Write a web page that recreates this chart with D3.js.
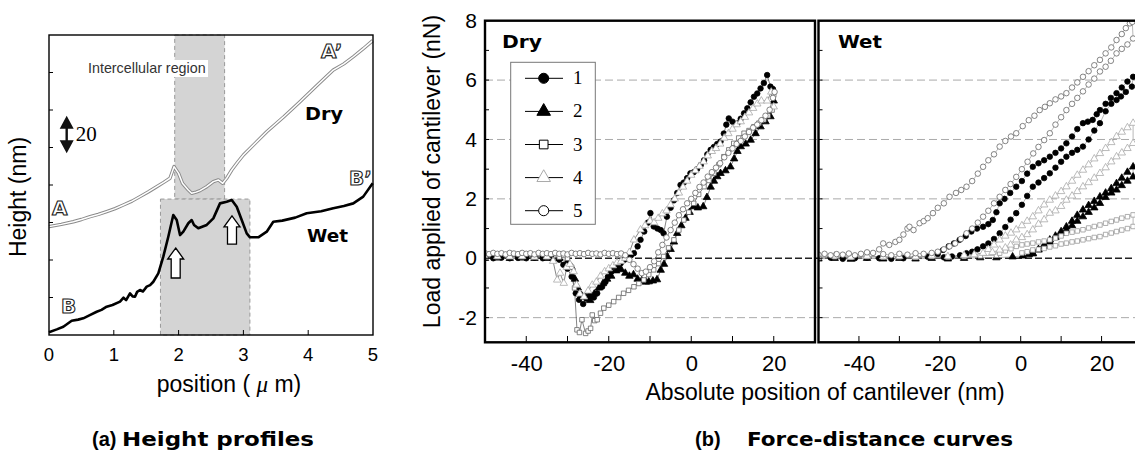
<!DOCTYPE html>
<html>
<head>
<meta charset="utf-8">
<script src="https://cdn.jsdelivr.net/npm/d3@7"></script>
<style>
 body { margin: 0; background: #fff; }
 svg { display: block; }
</style>
</head>
<body>
<svg width="1135" height="464" font-family="'Liberation Sans', Arial, sans-serif"></svg>
<script>
// ---------- (a) height profiles : [position (um), height (nm)]
var dryProfile = [[0,57.8],[0.19,59.0],[0.375,60.4],[0.5,61.6],[0.633,63.1],[0.76,64.3],[0.89,65.8],[1.02,67.4],[1.147,69.3],[1.28,71.4],[1.404,73.8],[1.53,76.3],[1.662,79.1],[1.77,81.4],[1.867,83.6],[1.93,89.8],[2.0,86.2],[2.06,80.9],[2.15,77.3],[2.202,75.6],[2.27,76.2],[2.33,77.0],[2.434,79.1],[2.536,81.8],[2.613,82.7],[2.681,80.9],[2.742,83.6],[2.82,88.0],[2.91,92.1],[3.0,96.0],[3.18,102.2],[3.36,108.4],[3.62,116.3],[3.873,124.4],[4.13,132.9],[4.387,141.3],[4.55,144.6],[4.696,148.4],[4.85,152.7],[4.995,157.0]];
var wetProfile = [[0,1.5],[0.12,3.0],[0.221,4.4],[0.35,7.6],[0.45,8.2],[0.529,8.9],[0.63,10.6],[0.736,12.4],[0.81,13.4],[0.89,15.1],[0.98,16.0],[1.096,17.8],[1.15,19.9],[1.19,18.6],[1.25,22.2],[1.29,20.6],[1.327,20.4],[1.36,23.0],[1.404,24.0],[1.45,23.2],[1.508,25.8],[1.56,26.6],[1.61,28.4],[1.687,32.9],[1.764,41.8],[1.841,52.4],[1.918,64.0],[1.971,61.3],[2.022,53.3],[2.073,55.1],[2.15,59.6],[2.202,61.3],[2.238,58.7],[2.304,56.9],[2.434,58.7],[2.536,62.2],[2.639,70.2],[2.742,71.1],[2.82,72.0],[2.897,68.4],[2.974,61.3],[3.051,54.2],[3.102,52.1],[3.23,52.1],[3.36,55.1],[3.461,60.4],[3.6,61.0],[3.8,62.6],[3.977,64.9],[4.2,66.0],[4.387,67.6],[4.55,68.8],[4.696,70.2],[4.85,73.8],[4.995,80.9]];
var regionUpper = [1.94, 2.71];   // intercellular region (dry)
var regionLower = [1.72, 3.10];   // intercellular region (wet)
var regionSplit = 72.5;           // height where the two boxes meet
var arrowsAt = [[1.955, 30.4, 46.4], [2.824, 48.5, 63.5]];
var profileTicksX = [0, 1, 2, 3, 4, 5];
var profileTicksY = [20, 40, 60, 80, 100, 120, 140];

// ---------- (b) force-distance curves : [position (nm), load (nN)]
var dry1 = [[-50,0.02],[-48,0],[-46,0.02],[-44,0],[-42,0.01],[-40,0],[-38,0.02],[-36,0],[-34,0.01],[-32,-0.05],[-31,-0.22],[-30,-0.35],[-29,-0.62],[-28,-1.18],[-27.2,-1.4],[-26.2,-1.54],[-25.4,-1.36],[-24.6,-1.25],[-23.6,-1.32],[-22.8,-1.18],[-21.6,-0.96],[-20.8,-0.8],[-20.2,-0.62],[-19.4,-0.45],[-18.8,-0.28],[-17.8,-0.3],[-17.1,-0.17],[-16.2,-0.05],[-15.5,0.06],[-14.6,0.1],[-13.9,0.17],[-13,0.4],[-12.3,0.62],[-11.4,0.9],[-10.5,1.2],[-9.9,1.52],[-9.1,1.07],[-8.2,1.0],[-7.4,0.95],[-6.7,0.84],[-5.9,1.4],[-5,1.7],[-4.2,1.95],[-3.4,2.2],[-2.6,2.47],[-1.8,2.55],[-1,2.7],[-0.2,2.86],[0.6,2.9],[1.4,3.0],[2.3,3.14],[3.1,3.3],[3.9,3.5],[4.7,3.65],[5.5,3.75],[6.3,3.85],[7.1,3.93],[7.9,4.2],[8.5,4.5],[9.1,4.71],[10,4.6],[11.2,4.55],[12,4.7],[12.8,4.88],[13.6,5.05],[14.4,5.25],[15.2,5.44],[16,5.55],[16.8,5.72],[17.6,5.9],[18.4,6.17],[19.2,5.78],[19.8,5.7]];
var dry2 = [[-50,0],[-47,0.01],[-44,0],[-41,0.01],[-38,0],[-35,0],[-32,0],[-30,-0.1],[-29,-0.3],[-28.2,-0.7],[-27.5,-1.0],[-26.6,-1.25],[-25.6,-1.3],[-24.5,-1.42],[-23.5,-1.2],[-22.4,-1.0],[-21.4,-0.85],[-20.4,-0.7],[-19.4,-0.6],[-18.2,-0.42],[-17,-0.38],[-16,-0.5],[-15,-0.6],[-14,-0.55],[-13,-0.7],[-12,-0.75],[-11,-0.8],[-10.3,-0.79],[-9.3,-0.76],[-8.3,-0.72],[-7.4,-0.4],[-6.6,-0.2],[-5.8,0.06],[-5,0.3],[-4.2,0.55],[-3.4,0.84],[-2.4,1.1],[-1.4,1.35],[-0.4,1.55],[0.6,1.74],[1.6,1.7],[2.9,1.74],[3.8,2.05],[4.7,2.4],[5.5,2.6],[6.3,2.75],[7.1,2.86],[8.3,2.95],[9.5,3.08],[10.4,3.35],[11.2,3.6],[12,3.76],[13.2,3.85],[14.4,3.98],[15.6,4.2],[16.8,4.43],[18,4.6],[19.2,4.77],[20,5.3]];
var dry3 = [[-50,0.06],[-47,0.05],[-44,0.07],[-41,0.05],[-38,0.06],[-35,0.05],[-32,0.04],[-30,0],[-29,-0.3],[-28.3,-1.0],[-27.7,-2.41],[-27.1,-2.5],[-26.5,-2.07],[-25.6,-2.53],[-25,-2.45],[-24.4,-2.36],[-24,-1.91],[-23.4,-2.1],[-22.8,-2.07],[-22,-1.85],[-21.2,-1.68],[-20,-1.58],[-18.8,-1.46],[-17.6,-1.32],[-16.4,-1.18],[-15.2,-1.08],[-13.9,-0.96],[-12.7,-0.85],[-11.5,-0.73],[-10.3,-0.55],[-9.1,-0.39],[-7.9,-0.18],[-6.7,0.06],[-5.5,0.35],[-4.2,0.62],[-3,0.95],[-1.8,1.29],[-0.6,1.55],[0.6,1.85],[1.8,2.15],[3.1,2.41],[4.3,2.62],[5.5,2.86],[6.7,3.15],[7.9,3.42],[9.1,3.65],[10.3,3.87],[11.5,4.05],[12.8,4.21],[14,4.3],[15.2,4.43],[16.4,4.55],[17.6,4.66],[18.6,4.8],[19.6,4.99],[20,5.5]];
var dry4 = [[-50,0.04],[-47,0.06],[-44,0.05],[-41,0.06],[-38,0.04],[-35,0.05],[-33.5,-0.1],[-32.5,-0.73],[-31.8,-0.5],[-30.9,-0.84],[-30.2,-0.3],[-29.4,-0.2],[-28.5,-0.45],[-27.8,-0.9],[-27,-1.2],[-26,-1.3],[-25,-1.1],[-24,-0.9],[-23,-0.8],[-22,-0.6],[-21,-0.45],[-20,-0.35],[-19,-0.25],[-18,-0.15],[-17,-0.1],[-16,0],[-15,0.2],[-13.9,0.62],[-12.3,0.96],[-11.2,1.1],[-10,1.25],[-9,1.2],[-8,1.35],[-7,1.5],[-6,1.6],[-5,1.8],[-4,2.0],[-3,2.2],[-2,2.4],[-1,2.6],[0,2.8],[1,2.95],[2,3.1],[3,3.25],[4,3.45],[5,3.6],[6,3.7],[7,3.85],[8,4.05],[9,4.2],[10,4.35],[11,4.5],[12,4.6],[13,4.75],[14,4.9],[15,5.05],[16,5.2],[17,5.3],[18.4,5.3],[19.4,5.6],[20,5.1]];
var dry5 = [[-50,0.17],[-49,0.14],[-48,0.18],[-47,0.15],[-46,0.17],[-45,0.13],[-44,0.18],[-43,0.16],[-42,0.14],[-41,0.18],[-40,0.15],[-39,0.17],[-38,0.13],[-37,0.18],[-36,0.15],[-35,0.17],[-34,0.14],[-33,0.18],[-32,0.15],[-31,0.16],[-30,0.13],[-29,0.18],[-28,0.15],[-27,0.17],[-26,0.14],[-25,0.18],[-24,0.15],[-23,0.16],[-22,0.13],[-21,0.18],[-20,0.15],[-19,0.17],[-18,0.14],[-17,0.16],[-16,0.1],[-15,-0.05],[-14,-0.2],[-13,-0.35],[-12,-0.5],[-11,-0.45],[-10,-0.3],[-9,-0.1],[-8,0.2],[-7,0.45],[-6,0.7],[-5,0.95],[-4,1.2],[-3,1.45],[-2,1.65],[-1,1.85],[0,2.0],[1,2.2],[2,2.4],[3,2.55],[4,2.75],[5,2.9],[6,3.05],[7,3.2],[8,3.4],[9,3.55],[10,3.7],[11,3.85],[12,3.95],[13,4.1],[14,4.25],[15,4.4],[16,4.5],[17,4.65],[18,4.8],[19,5.0],[19.8,5.4],[20.2,5.6]];

var wet1 = [[-50,0],[-47,0.02],[-44,-0.02],[-41,0],[-38,0.02],[-35,0],[-32,-0.02],[-29,0],[-26,0.03],[-23,0.05],[-20.5,0.15],[-19.2,0.28],[-17.8,0.4],[-16.5,0.5],[-15.1,0.62],[-13.6,0.75],[-12.2,0.9],[-10.8,1.0],[-9.3,1.06],[-8,1.15],[-6.9,1.29],[-6,1.55],[-5.2,1.85],[-4,2.0],[-2.6,2.2],[-1.1,2.41],[0.3,2.6],[1.6,2.85],[3.0,3.08],[4.4,3.2],[5.8,3.3],[7.2,3.42],[8.6,3.55],[10,3.7],[11.3,3.87],[12.7,4.1],[14,4.35],[15.4,4.55],[16.6,4.6],[17.8,4.66],[18.8,4.85],[19.6,4.99],[21,5.2],[22.3,5.4],[23.7,5.56],[25,5.75],[26.4,5.95],[27.8,6.11],[27.5,5.78],[26,5.6],[24.8,5.45],[23.7,5.33],[22.4,5.2],[21,4.95],[19.6,4.55],[18.2,4.3],[16.8,4.0],[15.4,3.76],[14,3.65],[12.7,3.55],[11.3,3.42],[10,3.25],[8.6,3.05],[7.2,2.86],[5.8,2.7],[4.4,2.55],[3.0,2.41],[1.6,2.1],[0.3,1.8],[-1.1,1.52],[-2.5,1.3],[-3.8,1.05],[-5.2,0.84],[-6.6,0.65],[-8,0.5],[-9.3,0.4],[-10.7,0.3],[-12,0.22],[-13.4,0.17],[-15,0.1],[-17,0.06],[-19,0.03]];
var wet2 = [[-50,-0.02],[-46,0],[-42,-0.03],[-38,0],[-34,-0.02],[-30,0],[-26,-0.02],[-22,0],[-18,-0.02],[-14,0],[-10,0.02],[-6,0.02],[-2,0.05],[0.5,0.08],[2,0.12],[3,0.17],[4.4,0.3],[5.8,0.45],[7.2,0.62],[8.6,0.75],[10,0.9],[11.3,1.06],[12.7,1.25],[14,1.45],[15.4,1.63],[16.8,1.78],[18.2,1.92],[19.6,2.07],[21,2.2],[22.4,2.35],[23.7,2.52],[25,2.7],[26.4,2.9],[27.8,3.08],[27.8,2.74],[26.4,2.6],[25,2.45],[23.7,2.3],[22.4,2.2],[21,2.05],[19.6,1.85],[18.2,1.7],[16.8,1.55],[15.4,1.4],[14,1.25],[12.7,1.1],[11.3,0.95],[10,0.84],[8.6,0.7],[7.2,0.55],[5.8,0.4],[4.4,0.28],[3,0.15]];
var wet3 = [[-50,0.02],[-46,0.05],[-42,0.03],[-38,0.06],[-34,0.04],[-30,0.05],[-26,0.03],[-22,0.06],[-18,0.04],[-14,0.06],[-10,0.08],[-6,0.1],[-5.2,0.17],[-3.8,0.25],[-2.4,0.32],[-1.1,0.4],[0.3,0.45],[1.6,0.48],[3,0.51],[4.4,0.55],[5.8,0.58],[7.2,0.62],[8.6,0.68],[10,0.75],[11.3,0.84],[12.7,0.88],[14,0.92],[15.4,0.96],[16.8,1.02],[18.2,1.07],[19.6,1.12],[21,1.18],[22.4,1.24],[23.7,1.29],[25,1.35],[26.4,1.4],[27.8,1.46],[27.8,1.07],[26.4,1.0],[25,0.95],[23.7,0.9],[22.4,0.85],[21,0.8],[19.6,0.73],[18.2,0.7],[16.8,0.66],[15.4,0.62],[14,0.58],[12.7,0.55],[11.3,0.51],[10,0.48],[8.6,0.42],[7.2,0.38],[5.8,0.33],[4.4,0.3],[3,0.28],[1.6,0.22],[0.3,0.18]];
var wet4 = [[-50,0.05],[-46,0.08],[-42,0.04],[-38,0.07],[-34,0.05],[-30,0.06],[-26,0.05],[-22,0.08],[-18,0.06],[-14,0.1],[-11.5,0.12],[-9.3,0.17],[-8,0.3],[-6.6,0.45],[-5.2,0.62],[-3.8,0.75],[-2.4,0.85],[-1.1,0.96],[0.3,1.1],[1.6,1.25],[3.0,1.4],[4.4,1.6],[5.8,1.8],[7.2,1.96],[8.6,2.1],[10,2.25],[11.3,2.41],[12.7,2.6],[14,2.8],[15.4,2.97],[16.8,3.15],[18.2,3.35],[19.6,3.53],[21,3.7],[22.4,3.9],[23.7,4.1],[25,4.25],[26.4,4.4],[27.8,4.55],[27.8,3.87],[26.4,3.7],[25,3.55],[23.7,3.42],[22.4,3.25],[21,3.05],[19.6,2.86],[18.2,2.7],[16.8,2.55],[15.4,2.41],[14,2.25],[12.7,2.1],[11.3,1.96],[10,1.75],[8.6,1.6],[7.2,1.52],[5.8,1.3],[4.4,1.15],[3,0.96],[1.6,0.8],[0.3,0.7],[-1.1,0.62],[-2.5,0.45],[-3.8,0.35],[-5.2,0.28],[-7,0.2]];
var wet5 = [[-50,0.12],[-48.5,0.15],[-47,0.1],[-45.5,0.14],[-44,0.12],[-42.5,0.16],[-41,0.1],[-39.5,0.15],[-38,0.2],[-36.5,0.18],[-35,0.3],[-34,0.5],[-32.5,0.45],[-31,0.55],[-30,0.62],[-29,0.8],[-28,1.0],[-27.5,1.06],[-26.5,0.95],[-25,1.18],[-24,1.25],[-23,1.35],[-21.7,1.52],[-20.5,1.7],[-19,1.85],[-17.6,2.07],[-16,2.2],[-14.7,2.3],[-13.4,2.41],[-12,2.6],[-10.6,2.85],[-9.3,3.08],[-8,3.3],[-6.6,3.5],[-5.2,3.76],[-3.8,3.95],[-2.4,4.1],[-1.1,4.21],[0.5,4.45],[2,4.65],[3.4,4.8],[4.7,4.99],[6,5.1],[7.2,5.22],[8.6,5.35],[10,5.45],[11.3,5.56],[12.7,5.75],[14,5.92],[15.4,6.11],[16.8,6.3],[18.2,6.5],[19.6,6.68],[21,6.9],[22.4,7.1],[23.7,7.35],[25,7.55],[26,7.75],[27,7.91],[27.6,7.96],[27.8,7.4],[26.4,7.2],[25,7.05],[23.7,6.9],[22.3,6.65],[21,6.45],[19.6,6.29],[18.2,6.05],[16.8,5.85],[15.4,5.62],[14,5.4],[12.7,5.2],[11.3,4.99],[10,4.75],[8.6,4.5],[7.2,4.21],[5.8,3.98],[4.4,3.75],[3.1,3.53],[1.7,3.25],[0.3,3.0],[-1.1,2.74],[-2.5,2.5],[-3.8,2.3],[-5.2,2.07],[-6.6,1.85],[-8,1.6],[-9.3,1.4],[-10.6,1.2],[-12,1.0],[-13.4,0.84],[-14.8,0.65],[-16.2,0.5],[-17.6,0.4],[-19,0.3],[-20.5,0.22],[-22,0.18],[-24,0.15],[-26,0.17],[-28,0.12],[-30,0.15],[-32,0.1],[-34,0.14]];

var seriesNames = ["1", "2", "3", "4", "5"];
var forceTicks = [-40, -30, -20, -10, 0, 10, 20];
var forceLabels = [-40, -20, 0, 20];
var loadTicks = [-2, 0, 2, 4, 6, 8];
var gridLoads = [-2, 2, 4, 6];

var svg = d3.select("svg");
var SANS = "'Liberation Sans', Arial, sans-serif";
var HEAVY = "'DejaVu Sans', 'Liberation Sans', sans-serif";
var SERIF = "'Liberation Serif', 'Times New Roman', serif";
var plain = function (d) { return String(d); };   // ASCII hyphen, like the original

// ===================== (a) =====================
var xA = d3.scaleLinear().domain([0, 5]).range([49, 373]);
var yA = d3.scaleLinear().domain([0, 160]).range([335, 35]);

var ga = svg.append("g");

// shaded intercellular region
ga.append("rect")
  .attr("x", xA(regionUpper[0])).attr("y", yA(160))
  .attr("width", xA(regionUpper[1]) - xA(regionUpper[0]))
  .attr("height", yA(regionSplit) - yA(160))
  .attr("fill", "#d4d4d4").attr("stroke", "#999").attr("stroke-dasharray", "4,3");
ga.append("rect")
  .attr("x", xA(regionLower[0])).attr("y", yA(regionSplit))
  .attr("width", xA(regionLower[1]) - xA(regionLower[0]))
  .attr("height", yA(0) - yA(regionSplit))
  .attr("fill", "#d4d4d4").attr("stroke", "#999").attr("stroke-dasharray", "4,3");

// label box
ga.append("rect").attr("x", 85).attr("y", 60).attr("width", 123).attr("height", 17).attr("fill", "#fff");
ga.append("text").attr("x", 88).attr("y", 73).attr("font-size", 14.3).attr("fill", "#333")
  .text("Intercellular region");

var lineA = d3.line().x(function (d) { return xA(d[0]); }).y(function (d) { return yA(d[1]); });

// dry: hollow double line
ga.append("path").datum(dryProfile).attr("d", lineA)
  .attr("fill", "none").attr("stroke", "#8a8a8a").attr("stroke-width", 3.4).attr("stroke-linejoin", "round");
ga.append("path").datum(dryProfile).attr("d", lineA)
  .attr("fill", "none").attr("stroke", "#fff").attr("stroke-width", 1.5).attr("stroke-linejoin", "round");
// wet: thick black
ga.append("path").datum(wetProfile).attr("d", lineA)
  .attr("fill", "none").attr("stroke", "#000").attr("stroke-width", 2.6).attr("stroke-linejoin", "round");

// up arrows
arrowsAt.forEach(function (a) {
  var cx = xA(a[0]), yb = yA(a[1]), yt = yA(a[2]);
  var hh = 11, hw = 8, sw = 4.5;
  var pts = [[cx, yt], [cx + hw, yt + hh], [cx + sw, yt + hh], [cx + sw, yb], [cx - sw, yb], [cx - sw, yt + hh], [cx - hw, yt + hh]];
  ga.append("polygon").attr("points", pts.join(" "))
    .attr("fill", "#fff").attr("stroke", "#000").attr("stroke-width", 1.3);
});

// scale bar: 20 nm double arrow
(function () {
  var cx = xA(0.273), y1 = yA(117), y2 = yA(97);
  ga.append("path")
    .attr("d", "M" + cx + "," + y1 + " L" + (cx + 7) + "," + (y1 + 13) + " L" + (cx + 1.2) + "," + (y1 + 13) +
      " L" + (cx + 1.2) + "," + (y2 - 13) + " L" + (cx + 7) + "," + (y2 - 13) + " L" + cx + "," + y2 +
      " L" + (cx - 7) + "," + (y2 - 13) + " L" + (cx - 1.2) + "," + (y2 - 13) + " L" + (cx - 1.2) + "," + (y1 + 13) +
      " L" + (cx - 7) + "," + (y1 + 13) + "Z")
    .attr("fill", "#111");
  ga.append("text").attr("x", cx + 9).attr("y", (y1 + y2) / 2 + 7)
    .attr("font-family", SERIF).attr("font-size", 21).text("20");
})();

// frame + ticks
ga.append("rect").attr("x", 49).attr("y", 35).attr("width", 324).attr("height", 300)
  .attr("fill", "none").attr("stroke", "#000").attr("stroke-width", 1.4);
ga.append("g").selectAll("line").data(profileTicksX.slice(1, 5)).enter().append("line")
  .attr("x1", xA).attr("x2", xA).attr("y1", 335).attr("y2", 330).attr("stroke", "#000");
ga.append("g").selectAll("line").data(profileTicksY).enter().append("line")
  .attr("x1", 49).attr("x2", 53).attr("y1", yA).attr("y2", yA).attr("stroke", "#000");

ga.append("g").selectAll("text").data(profileTicksX).enter().append("text")
  .attr("x", xA).attr("y", 361).attr("text-anchor", "middle").attr("font-size", 18.5)
  .text(plain);

// outline letters
var outline = [["A\u2019", 321, 58], ["B\u2019", 349, 185], ["A", 52, 215], ["B", 61, 313]];
ga.append("g").selectAll("text").data(outline).enter().append("text")
  .attr("x", function (d) { return d[1]; }).attr("y", function (d) { return d[2]; })
  .attr("font-family", HEAVY).attr("font-size", 20).attr("font-weight", "bold").attr("fill", "#fff")
  .attr("stroke", "#222").attr("stroke-width", 1.1)
  .text(function (d) { return d[0]; });
ga.append("text").attr("x", 305).attr("y", 120).attr("font-family", HEAVY).attr("font-size", 18).attr("font-weight", "bold")
  .attr("textLength", 38).attr("lengthAdjust", "spacingAndGlyphs").text("Dry");
ga.append("text").attr("x", 307).attr("y", 242).attr("font-family", HEAVY).attr("font-size", 18).attr("font-weight", "bold")
  .attr("textLength", 41).attr("lengthAdjust", "spacingAndGlyphs").text("Wet");

ga.append("text").attr("transform", "translate(26,197) rotate(-90)").attr("text-anchor", "middle")
  .attr("font-size", 23).text("Height (nm)");
var xlab = ga.append("text").attr("x", 229).attr("y", 392).attr("text-anchor", "middle").attr("font-size", 23);
xlab.append("tspan").text("position ( ");
xlab.append("tspan").attr("font-family", SERIF).attr("font-style", "italic").text("\u03bc");
xlab.append("tspan").text(" m)");

// ===================== (b) =====================
var yB = d3.scaleLinear().domain([-2.83, 8]).range([342.3, 20.7]);
var panels = [
  { name: "Dry", x0: 485, x1: 815, data: [dry1, dry2, dry3, dry4, dry5], lab: 502 },
  { name: "Wet", x0: 818.5, x1: 1142, data: [wet1, wet2, wet3, wet4, wet5], lab: 838 }
];
var styles = [
  { sym: d3.symbolCircle, fill: "#000", stroke: "#000" },
  { sym: d3.symbolTriangle, fill: "#000", stroke: "#000" },
  { sym: d3.symbolSquare, fill: "#fff", stroke: "#666" },
  { sym: d3.symbolTriangle, fill: "#fff", stroke: "#aaa" },
  { sym: d3.symbolCircle, fill: "#fff", stroke: "#666" }
];

// grid lines across both panels
svg.append("g").selectAll("line").data(gridLoads).enter().append("line")
  .attr("x1", 485).attr("x2", 1142).attr("y1", yB).attr("y2", yB)
  .attr("stroke", "#aaa").attr("stroke-dasharray", "8,4");
svg.append("line").attr("x1", 485).attr("x2", 1142).attr("y1", yB(0)).attr("y2", yB(0))
  .attr("stroke", "#222").attr("stroke-width", 1.3).attr("stroke-dasharray", "7,3");

panels.forEach(function (p, pi) {
  var x = d3.scaleLinear().domain([-50, 30]).range([p.x0, p.x1]);
  var g = svg.append("g");
  var clipId = "clip" + pi;
  g.append("clipPath").attr("id", clipId).append("rect")
    .attr("x", p.x0).attr("y", 20.7).attr("width", p.x1 - p.x0).attr("height", 321.6);
  var plot = g.append("g").attr("clip-path", "url(#" + clipId + ")");
  var line = d3.line().x(function (d) { return x(d[0]); }).y(function (d) { return yB(d[1]); });

  p.data.forEach(function (s) {
    plot.append("path").datum(s).attr("d", line).attr("fill", "none")
      .attr("stroke", pi === 0 ? "#333" : "#888").attr("stroke-width", 0.6);
  });
  p.data.forEach(function (s, i) {
    var st = styles[i];
    var stroke = (pi === 1 && i === 2) ? "#999" : st.stroke;
    plot.append("g").selectAll("path").data(s).enter().append("path")
      .attr("d", d3.symbol().type(st.sym).size(i === 2 ? 20 : 24))
      .attr("transform", function (d) { return "translate(" + x(d[0]) + "," + yB(d[1]) + ")"; })
      .attr("fill", st.fill).attr("stroke", stroke).attr("stroke-width", 0.8);
  });

  // frame
  g.append("rect").attr("x", p.x0).attr("y", 20.7).attr("width", p.x1 - p.x0).attr("height", 321.6)
    .attr("fill", "none").attr("stroke", "#000").attr("stroke-width", 2.4);
  // inside ticks
  g.append("g").selectAll("line").data(forceTicks).enter().append("line")
    .attr("x1", x).attr("x2", x).attr("y1", 342.3).attr("y2", 336).attr("stroke", "#000");
  g.append("g").selectAll("line").data(d3.range(-2, 9)).enter().append("line")
    .attr("x1", p.x0).attr("x2", p.x0 + 4).attr("y1", yB).attr("y2", yB).attr("stroke", "#000");
  // tick labels
  var ax = g.append("g").attr("transform", "translate(0,342.3)")
    .call(d3.axisBottom(x).tickValues(forceLabels).tickFormat(plain).tickSize(0).tickPadding(13));
  ax.select(".domain").remove();
  ax.selectAll("text").attr("font-size", 22).attr("font-family", SANS).attr("fill", "#000");

  g.append("text").attr("x", p.lab).attr("y", 48).attr("font-family", HEAVY).attr("font-size", 18).attr("font-weight", "bold")
    .attr("textLength", p.name === "Dry" ? 40 : 44).attr("lengthAdjust", "spacingAndGlyphs").text(p.name);
});

var ay = svg.append("g").attr("transform", "translate(485,0)")
  .call(d3.axisLeft(yB).tickValues(loadTicks).tickFormat(plain).tickSize(0).tickPadding(8));
ay.select(".domain").remove();
ay.selectAll("text").attr("font-size", 21).attr("font-family", SANS).attr("fill", "#000");

// legend
var lg = svg.append("g");
lg.append("rect").attr("x", 510.7).attr("y", 62.3).attr("width", 84.6).attr("height", 162)
  .attr("fill", "#fff").attr("stroke", "#777");
seriesNames.forEach(function (n, i) {
  var yy = 78.3 + i * 33.1, st = styles[i];
  lg.append("line").attr("x1", 525).attr("x2", 563).attr("y1", yy).attr("y2", yy).attr("stroke", "#000");
  lg.append("path").attr("d", d3.symbol().type(st.sym).size(i === 2 ? 75 : 80))
    .attr("transform", "translate(543.7," + yy + ")")
    .attr("fill", st.fill).attr("stroke", i === 3 ? "#aaa" : "#000").attr("stroke-width", 1);
  lg.append("text").attr("x", 573).attr("y", yy + 6).attr("font-family", SERIF)
    .attr("font-size", 19).text(n);
});

svg.append("text").attr("transform", "translate(440,171.5) rotate(-90)").attr("text-anchor", "middle")
  .attr("font-size", 23).text("Load applied of cantilever (nN)");
svg.append("text").attr("x", 825).attr("y", 400).attr("text-anchor", "middle").attr("font-size", 23)
  .text("Absolute position of cantilever (nm)");

// captions
svg.append("text").attr("x", 92).attr("y", 446).attr("font-size", 20).attr("font-weight", "bold").text("(a)");
svg.append("text").attr("x", 122).attr("y", 446).attr("font-family", HEAVY).attr("font-size", 20).attr("font-weight", "bold")
  .attr("textLength", 192).attr("lengthAdjust", "spacingAndGlyphs").text("Height profiles");
svg.append("text").attr("x", 695).attr("y", 446).attr("font-size", 20).attr("font-weight", "bold").text("(b)");
svg.append("text").attr("x", 747).attr("y", 446).attr("font-family", HEAVY).attr("font-size", 20).attr("font-weight", "bold")
  .attr("textLength", 266).attr("lengthAdjust", "spacingAndGlyphs").text("Force-distance curves");
</script>
</body>
</html>
